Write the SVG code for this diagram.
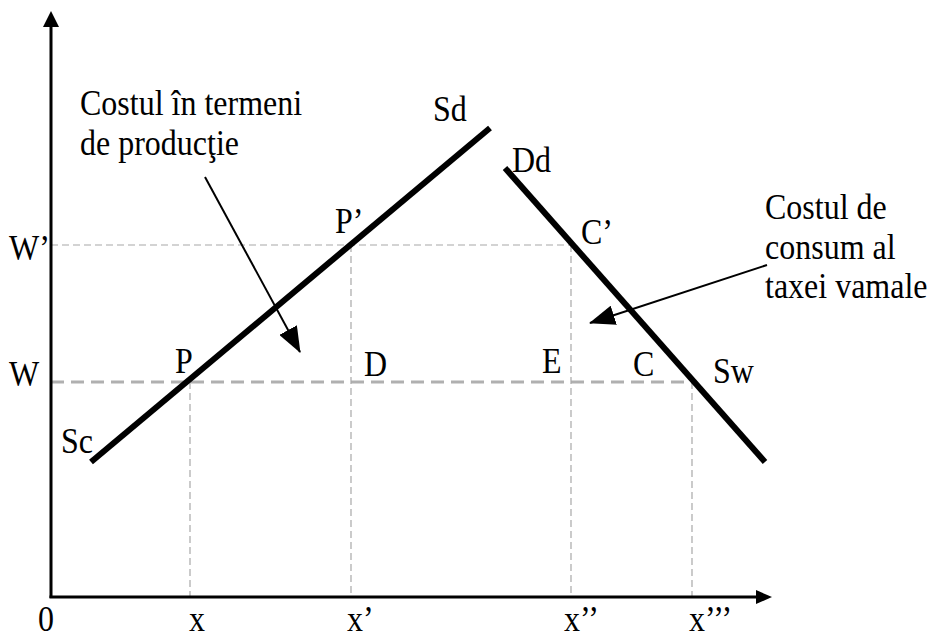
<svg xmlns="http://www.w3.org/2000/svg" width="933" height="634" viewBox="0 0 933 634">
<style>
.t{font-family:"Liberation Serif","Times New Roman","DejaVu Serif",serif;font-size:32px;fill:#000}
.thin{stroke:#a8a8a8;stroke-width:1.2;stroke-dasharray:7 4;fill:none}
.thick{stroke:#b0b0b0;stroke-width:3;stroke-dasharray:13 7;fill:none}
.curve{stroke:#000;stroke-width:6;fill:none}
.axis{stroke:#000;stroke-width:3;fill:none}
.ptr{stroke:#000;stroke-width:2;fill:none}
</style>
<defs>
<marker id="pa" markerWidth="26" markerHeight="20" refX="25" refY="10" orient="auto" markerUnits="userSpaceOnUse" viewBox="0 0 26 20">
<path d="M0,0 L26,10 L0,20 Z" fill="#000"/>
</marker>
</defs>
<g id="guides">
<line class="thin" x1="51" y1="245" x2="571" y2="245"/>
<line class="thick" x1="51" y1="382" x2="692" y2="382"/>
<line class="thin" x1="190" y1="382" x2="190" y2="597"/>
<line class="thin" x1="351" y1="245" x2="351" y2="597"/>
<line class="thin" x1="571" y1="245" x2="571" y2="597"/>
<line class="thin" x1="692" y1="382" x2="692" y2="597"/>
</g>
<g id="axes">
<line class="axis" x1="51" y1="598" x2="51" y2="26"/>
<path d="M51,11 L43,27 L59,27 Z" fill="#000"/>
<line class="axis" x1="49.5" y1="597" x2="757" y2="597"/>
<path d="M772,597 L756,590 L756,604 Z" fill="#000"/>
</g>
<g id="supply">
<line class="curve" x1="91" y1="462" x2="490" y2="128"/>
</g>
<g id="demand">
<line class="curve" x1="505" y1="168" x2="765" y2="462"/>
</g>
<g id="connectors">
<line class="ptr" x1="205" y1="177" x2="300" y2="352" marker-end="url(#pa)"/>
<line class="ptr" x1="767" y1="265" x2="590" y2="323" marker-end="url(#pa)"/>
</g>
<g id="label-production" class="t">
<text transform="translate(80,115) scale(1,1.12)">Costul în termeni</text>
<text transform="translate(80,155) scale(1,1.12)">de producţie</text>
</g>
<g id="label-consumption" class="t">
<text transform="translate(765,219) scale(1,1.12)">Costul de</text>
<text transform="translate(765,259) scale(1,1.12)">consum al</text>
<text transform="translate(765,298) scale(1,1.12)">taxei vamale</text>
</g>
<g id="points" class="t">
<text transform="translate(433,121) scale(1,1.12)">Sd</text>
<text transform="translate(512,172) scale(1,1.12)">Dd</text>
<text transform="translate(335,233) scale(1,1.12)">P’</text>
<text transform="translate(581,244) scale(1,1.12)">C’</text>
<text transform="translate(9,260) scale(1,1.12)">W’</text>
<text transform="translate(9,386) scale(1,1.12)">W</text>
<text transform="translate(175,373) scale(1,1.12)">P</text>
<text transform="translate(364,376) scale(1,1.12)">D</text>
<text transform="translate(542,373) scale(1,1.12)">E</text>
<text transform="translate(633,376) scale(1,1.12)">C</text>
<text transform="translate(713,383) scale(1,1.12)">Sw</text>
<text transform="translate(61,453) scale(1,1.12)">Sc</text>
</g>
<g id="ticks" class="t">
<text transform="translate(38,631) scale(1,1.12)">0</text>
<text transform="translate(189,631) scale(1,1.12)">x</text>
<text transform="translate(347,631) scale(1,1.12)">x’</text>
<text transform="translate(564,631) scale(1,1.12)">x’’</text>
<text transform="translate(689,631) scale(1,1.12)">x’’’</text>
</g>
</svg>
